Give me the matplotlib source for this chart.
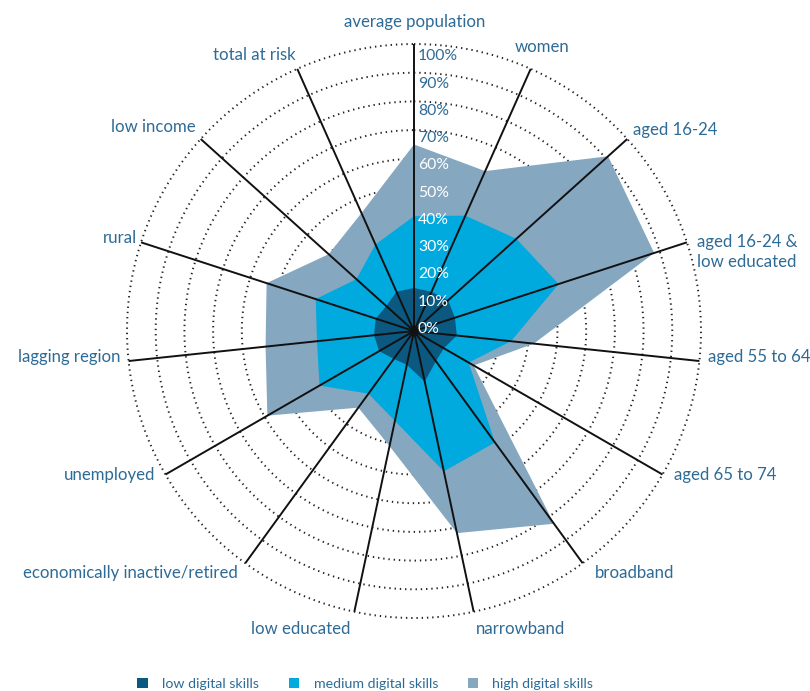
import numpy as np
import matplotlib
matplotlib.use("Agg")
import matplotlib.pyplot as plt
from matplotlib.patches import Patch

plt.rcParams['font.family'] = ['Lato', 'DejaVu Sans']

# ---------------- data ----------------
categories = [
    "average population", "women", "aged 16-24", "aged 16-24 &\nlow educated",
    "aged 55 to 64", "aged 65 to 74", "broadband", "narrowband", "low educated",
    "economically inactive/retired", "unemployed", "lagging region", "rural",
    "low income", "total at risk",
]
low_skills = [15, 15, 16, 15, 15, 12, 13, 18, 12, 12, 14, 14, 14, 13, 15]
medium_skills = [25, 29, 32, 38, 19, 10, 35, 32, 20, 15, 24, 20, 22, 14, 18]
high_skills = [25, 17, 43, 35, 8, 2, 35, 22, 9, 6, 21, 18, 18, 13, 12]
series_names = ["low digital skills", "medium digital skills", "high digital skills"]
tick_values = [0, 10, 20, 30, 40, 50, 60, 70, 80, 90, 100]

# ---------------- style / layout ----------------
col_low = "#0b5880"
col_med = "#00a9de"
col_high = "#86a7c0"
text_col = "#2d6b96"

# label layout: (ha, dx, dy) in pixels relative to spoke end
label_layout = [
    ("center", 1, 22), ("center", 11, 22), ("left", 6, 9), ("left", 10, -10),
    ("left", 9, 4), ("left", 11, 0), ("left", 12, -10), ("left", 2, -17),
    ("right", -4, -17), ("right", -8, -10), ("right", -10, 0), ("right", -8, 4),
    ("right", -4, 4), ("right", -5, 12), ("right", -2, 14),
]

fig = plt.figure(figsize=(8.1, 6.91), dpi=100)
ax = fig.add_axes([0.1568, 0.1056, 0.7086, 0.8307], projection="polar")
ax.set_theta_zero_location("N")
ax.set_theta_direction(-1)
ax.set_ylim(0, 1)
ax.axis("off")

n = len(categories)
theta = np.deg2rad(np.arange(n) * 360.0 / n)
th_c = np.append(theta, theta[0])

low = np.array(low_skills, float) / 100
med = low + np.array(medium_skills, float) / 100
high = med + np.array(high_skills, float) / 100

# dotted rings
circ = np.linspace(0, 2 * np.pi, 500)
for v in tick_values[1:]:
    ax.plot(circ, np.full_like(circ, v / 100), color="#222222", lw=1.4,
            ls=(0, (0.7, 2.0)), zorder=1, clip_on=False)

# stacked areas
for vals, c in [(high, col_high), (med, col_med), (low, col_low)]:
    ax.fill(th_c, np.append(vals, vals[0]), color=c, lw=0, zorder=2)

# spokes
for t in theta:
    ax.plot([t, t], [0, 1], color="#111111", lw=1.4, zorder=3,
            solid_capstyle="butt", clip_on=False)

# percentage labels
for v in tick_values:
    r = v / 100 * 0.95 + 0.007
    ax.annotate(f"{v}%", xy=(0, r), xytext=(4, 0), textcoords="offset pixels",
                ha="left", va="center", fontsize=11.3,
                color="white" if v <= 60 else text_col, zorder=5)

# category labels
for t, lab, (ha, dx, dy) in zip(theta, categories, label_layout):
    ax.annotate(lab, xy=(t, 1), xytext=(dx, dy), textcoords="offset pixels",
                ha=ha, va="center", fontsize=12.1, color=text_col,
                linespacing=1.3, annotation_clip=False, zorder=5)

# legend
handles = [Patch(facecolor=c, edgecolor="none") for c in (col_low, col_med, col_high)]
fig.legend(handles, series_names, loc="center", bbox_to_anchor=(0.451, 0.010),
           ncol=3, frameon=False, handlelength=0.75, handleheight=0.75,
           handletextpad=1.0, columnspacing=2.1, fontsize=10.2,
           labelcolor=text_col)

fig.savefig("out.png", dpi=100)
